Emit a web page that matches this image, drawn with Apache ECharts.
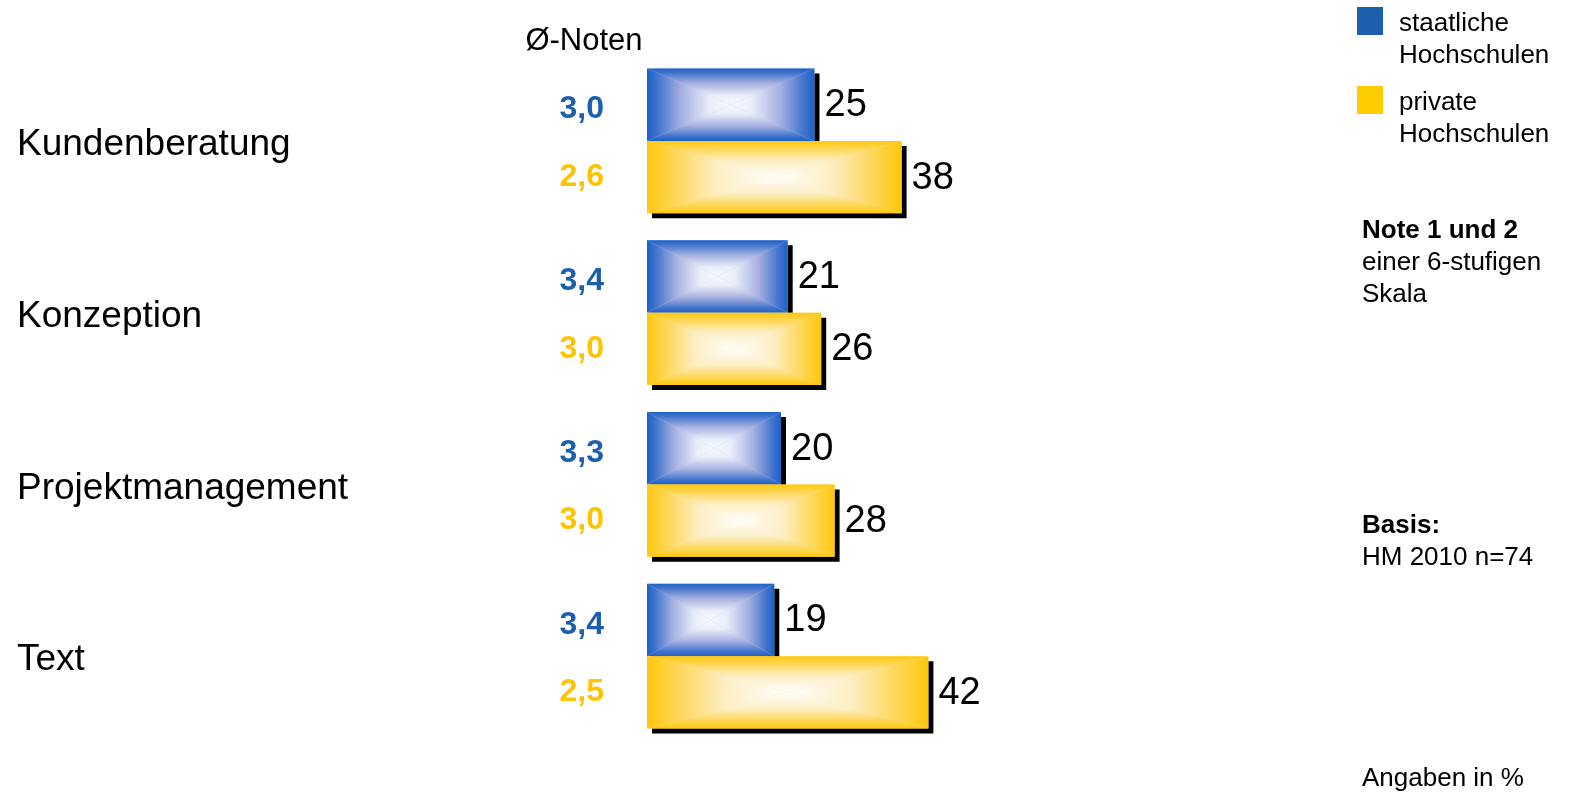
<!DOCTYPE html>
<html>
<head>
<meta charset="utf-8">
<title>Noten nach Bereichen</title>
<script src="https://cdn.jsdelivr.net/npm/echarts@6/dist/echarts.min.js"></script>
<style>
  html, body { margin: 0; padding: 0; background: #fff; }
  #chart { width: 1573px; height: 792px; }
</style>
</head>
<body>
<div id="chart"></div>
<script>
// Bereiche (Kategorien) und Werte in %
const categories = ['Kundenberatung', 'Konzeption', 'Projektmanagement', 'Text'];
const seriesNames = ['staatliche\nHochschulen', 'private\nHochschulen'];
const staatlich = [25, 21, 20, 19];
const privat = [38, 26, 28, 42];
// Durchschnittsnoten je Bereich
const notenStaatlich = [3.0, 3.4, 3.3, 3.4];
const notenPrivat = [2.6, 3.0, 3.0, 2.5];
// Texte rechts
const notizNote = ['Note 1 und 2', 'einer 6-stufigen', 'Skala'];
const notizBasis = ['Basis:', 'HM 2010 n=74'];
const notizEinheit = 'Angaben in %';
const notenTitel = 'Ø-Noten';

const FONT = '"Liberation Sans", Arial, Helvetica, sans-serif';
const BLUE = '#1c5fad';
const YELLOW = '#ffcc00';

const fmtNote = (n) => n.toFixed(1).replace('.', ',');

// Balken mit rechteckigem Verlauf (Rand farbig, Mitte weiß) und hartem Schatten
function makeRenderer(side, stops, midFill, gradeColor, gradeShift, withCategory) {
  return function (params, api) {
    const v = api.value(0);
    const idx = api.value(1);
    const grade = api.value(2);
    const base = api.coord([0, idx]);
    const end = api.coord([v, idx]);
    const band = api.size([0, 1])[1];
    const h = band * 0.422;
    const x0 = base[0], x1 = end[0];
    const y0 = side === 'top' ? base[1] - h : base[1];
    const y1 = y0 + h;
    const xc = (x0 + x1) / 2, yc = (y0 + y1) / 2;
    const grad = (a, b, c, d) => new echarts.graphic.LinearGradient(a, b, c, d, stops);
    const poly = (pts, fill) => ({ type: 'polygon', shape: { points: pts }, style: { fill: fill, lineWidth: 0 } });
    const children = [
      { type: 'rect', shape: { x: x0 + 5, y: y0 + 5, width: x1 - x0, height: h }, style: { fill: '#000' } },
      { type: 'rect', shape: { x: x0, y: y0, width: x1 - x0, height: h }, style: { fill: midFill } },
      poly([[x0, y0], [x1, y0], [xc, yc]], grad(0, 0, 0, 1)),
      poly([[x0, y1], [x1, y1], [xc, yc]], grad(0, 1, 0, 0)),
      poly([[x0, y0], [xc, yc], [x0, y1]], grad(0, 0, 1, 0)),
      poly([[x1, y0], [xc, yc], [x1, y1]], grad(1, 0, 0, 0)),
      {
        type: 'text',
        style: {
          text: String(v), x: x1 + 10, y: yc + 1, fill: '#000',
          font: '38px ' + FONT, align: 'left', verticalAlign: 'middle'
        }
      },
      {
        type: 'text',
        style: {
          text: fmtNote(grade), x: x0 - 43, y: yc + gradeShift, fill: gradeColor,
          font: 'bold 32px ' + FONT, align: 'right', verticalAlign: 'middle'
        }
      }
    ];
    if (withCategory) {
      // Bereichsname links, auf Höhe der Gruppenmitte
      children.push({
        type: 'text',
        style: {
          text: categories[idx], x: 17, y: base[1] + 4, fill: '#000',
          font: '37px ' + FONT, align: 'left', verticalAlign: 'middle'
        }
      });
    }
    return { type: 'group', children: children };
  };
}

const blueStops = [
  { offset: 0, color: '#1a62c8' },
  { offset: 0.12, color: '#3f72cc' },
  { offset: 0.4, color: '#a2aee0' },
  { offset: 0.75, color: '#e9eef9' },
  { offset: 1, color: '#f7f9fe' }
];
const yellowStops = [
  { offset: 0, color: '#ffc70a' },
  { offset: 0.2, color: '#fdd550' },
  { offset: 0.55, color: '#fdeec4' },
  { offset: 1, color: '#fffefb' }
];

function legendAndNotes() {
  const els = [];
  const textStyle = (t, x, y, bold) => ({
    type: 'text', x: x, y: y,
    style: { text: t, fill: '#000', font: (bold ? 'bold ' : '') + '26px ' + FONT, align: 'left', verticalAlign: 'middle' }
  });
  // Titel über den Noten
  els.push({ type: 'text', x: 584, y: 41, style: { text: notenTitel, fill: '#000', font: '31px ' + FONT, align: 'center', verticalAlign: 'middle' } });
  // Legende
  const legendColors = [BLUE, YELLOW];
  const legendTop = [7, 86];
  seriesNames.forEach((name, i) => {
    els.push({ type: 'rect', shape: { x: 1357, y: legendTop[i], width: 26, height: 28 }, style: { fill: legendColors[i] } });
    name.split('\n').forEach((line, j) => els.push(textStyle(line, 1399, legendTop[i] + 17 + j * 32, false)));
  });
  // Hinweise
  notizNote.forEach((line, j) => els.push(textStyle(line, 1362, 231 + j * 32, j === 0)));
  notizBasis.forEach((line, j) => els.push(textStyle(line, 1362, 526 + j * 32, j === 0)));
  els.push(textStyle(notizEinheit, 1362, 779, false));
  return els;
}

const chart = echarts.init(document.getElementById('chart'), null, { renderer: 'canvas' });
chart.setOption({
  backgroundColor: '#fff',
  animation: false,
  grid: { left: 647, top: 55, width: 670, height: 687, containLabel: false, outerBoundsMode: 'none' },
  xAxis: { type: 'value', min: 0, max: 100, show: false },
  yAxis: {
    type: 'category', data: categories, inverse: true,
    axisLine: { show: false }, axisTick: { show: false }, splitLine: { show: false },
    axisLabel: { show: false }
  },
  graphic: legendAndNotes(),
  series: [
    {
      name: seriesNames[0], type: 'custom',
      renderItem: makeRenderer('top', blueStops, '#b8c2e8', BLUE, 5, true),
      encode: { x: 0, y: 1 },
      data: staatlich.map((v, i) => [v, i, notenStaatlich[i]])
    },
    {
      name: seriesNames[1], type: 'custom',
      renderItem: makeRenderer('bottom', yellowStops, '#fde49a', '#ffc400', 0, false),
      encode: { x: 0, y: 1 },
      data: privat.map((v, i) => [v, i, notenPrivat[i]])
    }
  ]
});
</script>
</body>
</html>
